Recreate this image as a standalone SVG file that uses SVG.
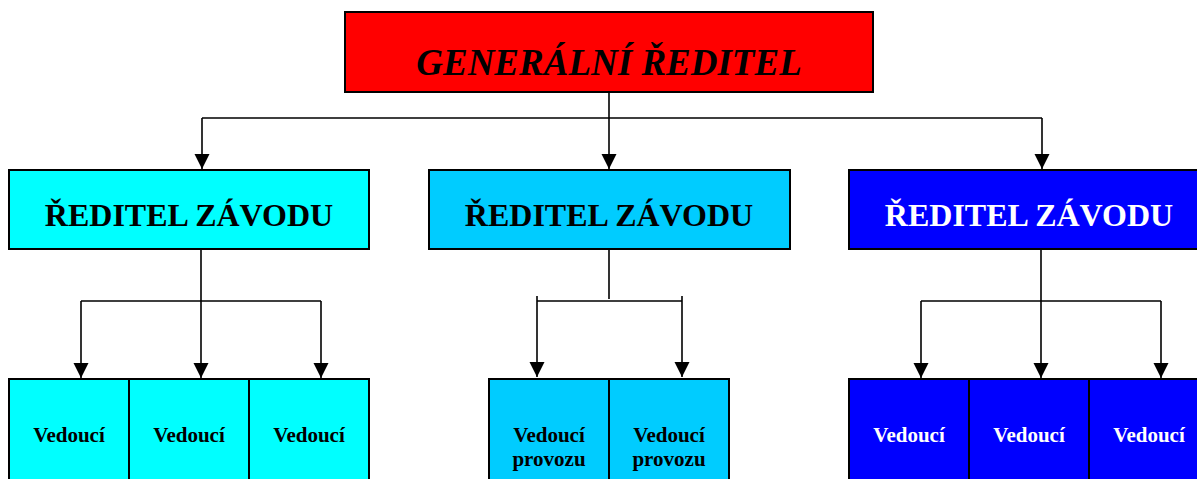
<svg xmlns="http://www.w3.org/2000/svg" width="1197" height="479" viewBox="0 0 1197 479">
<defs>
<marker id="arr" markerUnits="userSpaceOnUse" markerWidth="16" markerHeight="16" refX="15" refY="7.5" orient="auto">
<path d="M0,0 L15,7.5 L0,15 Z" fill="#000"/>
</marker>
<style>
.box{stroke:#000;stroke-width:2}
.t{font-family:"Liberation Serif","Times New Roman",serif;font-weight:bold;text-anchor:middle}
.big{font-size:32px}
.sm{font-size:21px}
.c{fill:none;stroke:#000;stroke-width:1.6}
</style>
</defs>
<rect width="1197" height="479" fill="#fff"/>
<g id="connectors">
<path class="c" d="M609,92 V118 M202,118 H1042"/>
<path class="c" d="M202,118 V169" marker-end="url(#arr)"/>
<path class="c" d="M609,118 V169" marker-end="url(#arr)"/>
<path class="c" d="M1042,118 V169" marker-end="url(#arr)"/>
<path class="c" d="M201,249 V301 M81,301 H321"/>
<path class="c" d="M81,301 V378" marker-end="url(#arr)"/>
<path class="c" d="M201,301 V378" marker-end="url(#arr)"/>
<path class="c" d="M321,301 V378" marker-end="url(#arr)"/>
<path class="c" d="M609,249 V299 M537,301 H682 M537,296 V301 M682,296 V301"/>
<path class="c" d="M537,301 V377" marker-end="url(#arr)"/>
<path class="c" d="M682,301 V377" marker-end="url(#arr)"/>
<path class="c" d="M1041,249 V301 M921,301 H1161"/>
<path class="c" d="M921,301 V378" marker-end="url(#arr)"/>
<path class="c" d="M1041,301 V378" marker-end="url(#arr)"/>
<path class="c" d="M1161,301 V378" marker-end="url(#arr)"/>
</g>
<g id="generalni">
<rect class="box" x="345" y="12" width="528" height="80" fill="#ff0000"/>
<text class="t" x="609" y="75" font-size="37" font-style="italic">GENERÁLNÍ ŘEDITEL</text>
</g>
<g id="reditel1">
<rect class="box" x="9" y="170" width="360" height="79" fill="#00ffff"/>
<text class="t big" x="189" y="226">ŘEDITEL ZÁVODU</text>
</g>
<g id="reditel2">
<rect class="box" x="429" y="170" width="361" height="79" fill="#00ccff"/>
<text class="t big" x="609" y="226">ŘEDITEL ZÁVODU</text>
</g>
<g id="reditel3">
<rect class="box" x="849" y="170" width="360" height="79" fill="#0000ff"/>
<text class="t big" x="1029" y="226" fill="#fff">ŘEDITEL ZÁVODU</text>
</g>
<g id="vedouci1a">
<rect class="box" x="9" y="379" width="120" height="110" fill="#00ffff"/>
<text class="t sm" x="69" y="442">Vedoucí</text>
</g>
<g id="vedouci1b">
<rect class="box" x="129" y="379" width="120" height="110" fill="#00ffff"/>
<text class="t sm" x="189" y="442">Vedoucí</text>
</g>
<g id="vedouci1c">
<rect class="box" x="249" y="379" width="120" height="110" fill="#00ffff"/>
<text class="t sm" x="309" y="442">Vedoucí</text>
</g>
<g id="provoz2a">
<rect class="box" x="489" y="379" width="120" height="110" fill="#00ccff"/>
<text class="t sm" x="549" y="442">Vedoucí</text>
<text class="t sm" x="549" y="466">provozu</text>
</g>
<g id="provoz2b">
<rect class="box" x="609" y="379" width="120" height="110" fill="#00ccff"/>
<text class="t sm" x="669" y="442">Vedoucí</text>
<text class="t sm" x="669" y="466">provozu</text>
</g>
<g id="vedouci3a">
<rect class="box" x="849" y="379" width="120" height="110" fill="#0000ff"/>
<text class="t sm" x="909" y="442" fill="#fff">Vedoucí</text>
</g>
<g id="vedouci3b">
<rect class="box" x="969" y="379" width="120" height="110" fill="#0000ff"/>
<text class="t sm" x="1029" y="442" fill="#fff">Vedoucí</text>
</g>
<g id="vedouci3c">
<rect class="box" x="1089" y="379" width="120" height="110" fill="#0000ff"/>
<text class="t sm" x="1149" y="442" fill="#fff">Vedoucí</text>
</g>
</svg>
